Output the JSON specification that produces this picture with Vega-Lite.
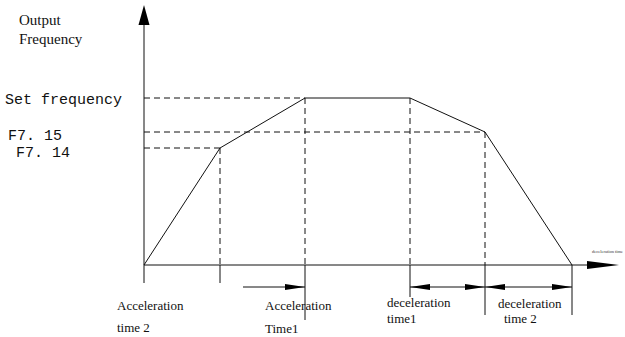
{
  "$schema": "https://vega.github.io/schema/vega-lite/v6.json",
  "width": 625,
  "height": 337,
  "padding": 0,
  "autosize": {"type": "fit", "contains": "padding"},
  "background": "white",
  "config": {"view": {"stroke": null}},
  "datasets": {
    "profile": [
      {"x": 0, "y": 0},
      {"x": 76, "y": 117},
      {"x": 161, "y": 167},
      {"x": 266, "y": 167},
      {"x": 341, "y": 133},
      {"x": 428, "y": 0}
    ],
    "guides": [
      {"x": 0, "y": 167, "x2": 161, "y2": 167},
      {"x": 0, "y": 133, "x2": 341, "y2": 133},
      {"x": 0, "y": 117, "x2": 76, "y2": 117},
      {"x": 76, "y": 117, "x2": 76, "y2": 0},
      {"x": 161, "y": 167, "x2": 161, "y2": 0},
      {"x": 266, "y": 167, "x2": 266, "y2": 0},
      {"x": 341, "y": 133, "x2": 341, "y2": 0}
    ],
    "solid": [
      {"x": 0, "y": -18, "x2": 0, "y2": 240},
      {"x": 0, "y": 0, "x2": 443, "y2": 0},
      {"x": 76, "y": 0, "x2": 76, "y2": -18},
      {"x": 161, "y": 0, "x2": 161, "y2": -55},
      {"x": 266, "y": 0, "x2": 266, "y2": -32},
      {"x": 341, "y": 0, "x2": 341, "y2": -50},
      {"x": 428, "y": 0, "x2": 428, "y2": -50},
      {"x": 99, "y": -22, "x2": 161, "y2": -22},
      {"x": 266, "y": -22, "x2": 341, "y2": -22},
      {"x": 341, "y": -22, "x2": 428, "y2": -22}
    ],
    "heads": [
      {"x": 0, "y": 250, "dir": "up"},
      {"x": 459, "y": 0, "dir": "right"},
      {"x": 161, "y": -22, "dir": "sright"},
      {"x": 341, "y": -22, "dir": "sright"},
      {"x": 428, "y": -22, "dir": "sright"},
      {"x": 266, "y": -22, "dir": "sleft"},
      {"x": 341, "y": -22, "dir": "sleft"}
    ],
    "title": [
      {"x": -125, "y": 240, "label": "Output"},
      {"x": -125, "y": 221, "label": "Frequency"}
    ],
    "serif": [
      {"x": -27, "y": -45, "label": "Acceleration"},
      {"x": -27, "y": -67, "label": "time 2"},
      {"x": 121, "y": -45, "label": "Acceleration"},
      {"x": 121, "y": -68, "label": "Time1"},
      {"x": 243, "y": -42, "label": "deceleration"},
      {"x": 243, "y": -58, "label": "time1"},
      {"x": 354, "y": -43, "label": "deceleration"},
      {"x": 360, "y": -58, "label": "time 2"}
    ],
    "mono": [
      {"x": -139, "y": 161, "label": "Set frequency"},
      {"x": -136, "y": 125, "label": "F7. 15"},
      {"x": -128, "y": 108, "label": "F7. 14"}
    ],
    "tiny": [
      {"x": 448, "y": 13, "label": "deceleration time"}
    ]
  },
  "encoding": {
    "x": {"field": "x", "type": "quantitative", "scale": {"domain": [-144, 481], "nice": false, "zero": false}, "axis": null},
    "y": {"field": "y", "type": "quantitative", "scale": {"domain": [-72, 265], "nice": false, "zero": false}, "axis": null}
  },
  "layer": [
    {
      "data": {"name": "guides"},
      "mark": {"type": "rule", "color": "#111", "strokeWidth": 1, "strokeDash": [6, 4]},
      "encoding": {"x2": {"field": "x2"}, "y2": {"field": "y2"}}
    },
    {
      "data": {"name": "solid"},
      "mark": {"type": "rule", "color": "#111", "strokeWidth": 1},
      "encoding": {"x2": {"field": "x2"}, "y2": {"field": "y2"}}
    },
    {
      "data": {"name": "profile"},
      "mark": {"type": "line", "color": "#111", "strokeWidth": 1},
      "encoding": {"order": {"field": "x", "type": "quantitative"}}
    },
    {
      "data": {"name": "heads"},
      "mark": {"type": "point", "filled": true, "opacity": 1, "color": "#000", "size": 4, "strokeWidth": 0},
      "encoding": {
        "shape": {
          "field": "dir", "type": "nominal", "legend": null,
          "scale": {
            "domain": ["up", "right", "sright", "sleft"],
            "range": [
              "M0,-10L5.5,10L-5.5,10Z",
              "M16,0L-16,-4L-16,4Z",
              "M0,0L-20,-3L-20,3Z",
              "M0,0L20,-3L20,3Z"
            ]
          }
        }
      }
    },
    {
      "data": {"name": "title"},
      "mark": {"type": "text", "align": "left", "baseline": "alphabetic", "font": "Liberation Serif", "fontSize": 15, "color": "#111"},
      "encoding": {"text": {"field": "label"}}
    },
    {
      "data": {"name": "serif"},
      "mark": {"type": "text", "align": "left", "baseline": "alphabetic", "font": "Liberation Serif", "fontSize": 13, "color": "#111"},
      "encoding": {"text": {"field": "label"}}
    },
    {
      "data": {"name": "mono"},
      "mark": {"type": "text", "align": "left", "baseline": "alphabetic", "font": "Liberation Mono", "fontSize": 15, "color": "#111"},
      "encoding": {"text": {"field": "label"}}
    },
    {
      "data": {"name": "tiny"},
      "mark": {"type": "text", "align": "left", "baseline": "middle", "font": "Liberation Serif", "fontSize": 4.5, "color": "#333"},
      "encoding": {"text": {"field": "label"}}
    }
  ]
}
